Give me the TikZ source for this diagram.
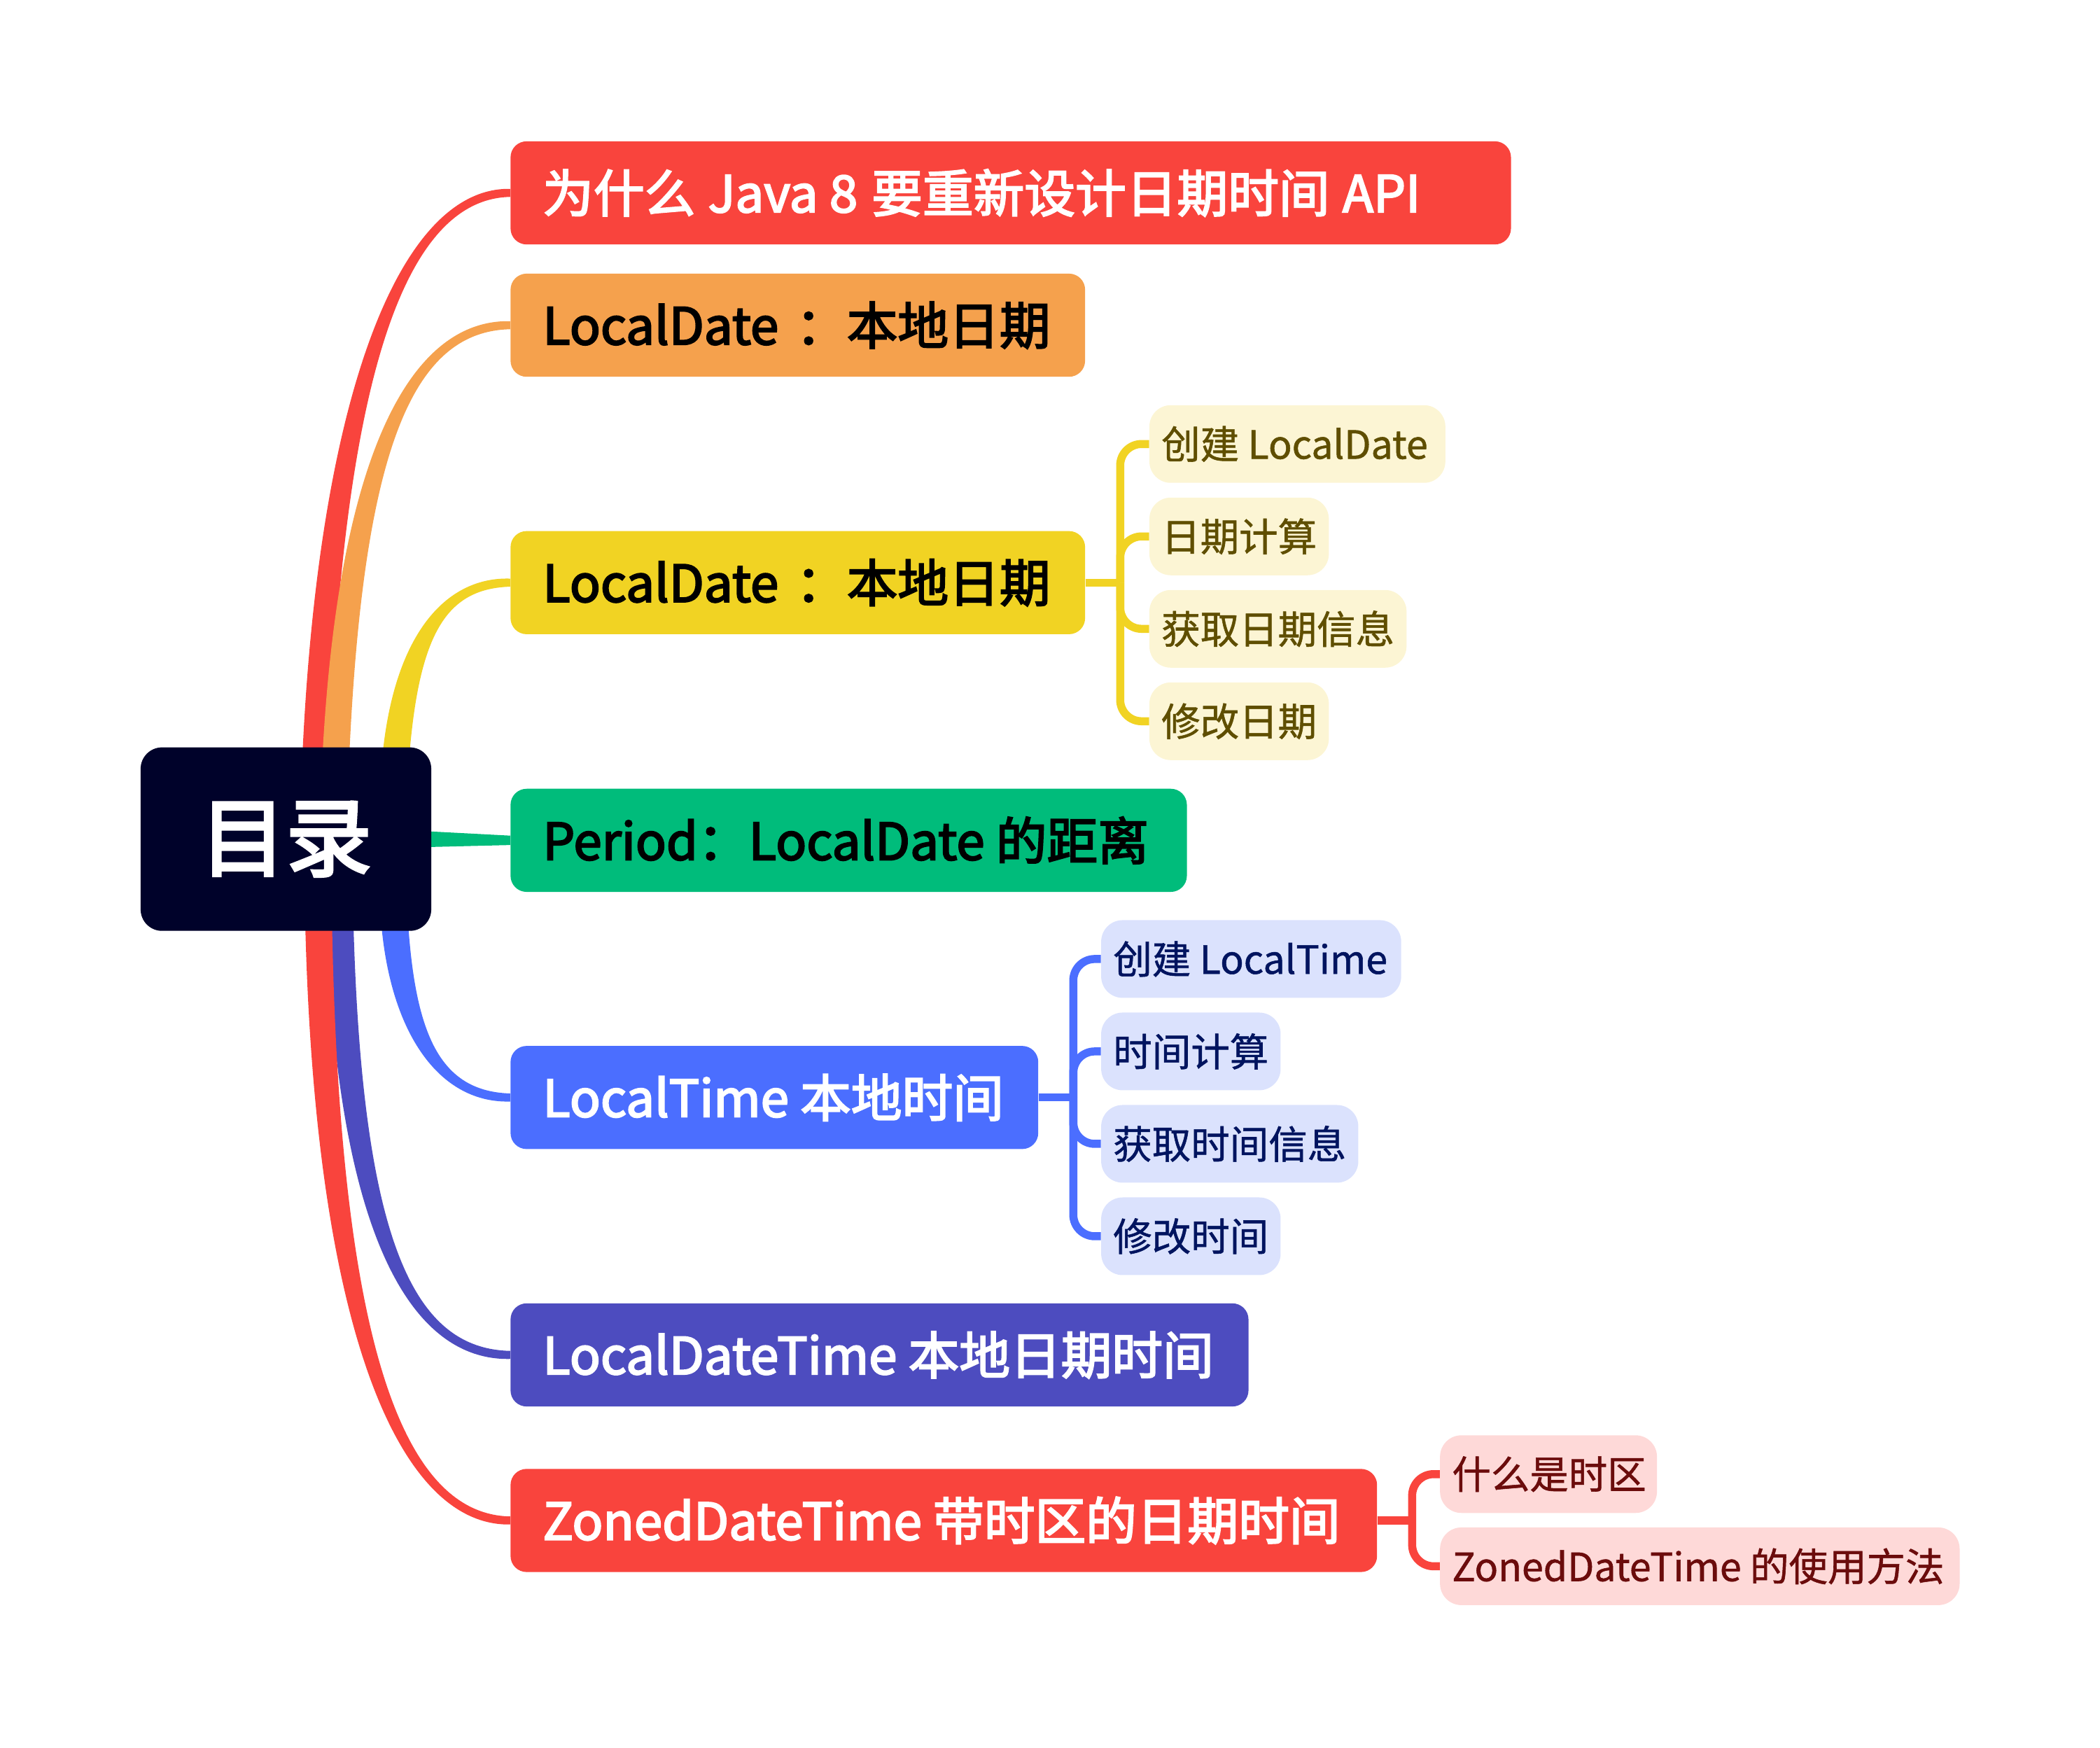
\documentclass[tikz,border=0pt]{standalone}
\usepackage{fontspec}
\setmainfont{Noto Sans CJK SC}
\newfontfamily\topicfont[FakeBold=3]{Noto Sans CJK SC}
\newfontfamily\rootfont[FakeBold=3.5]{Noto Sans CJK SC}
\newfontfamily\subfont[FakeBold=1]{Noto Sans CJK SC}
\usetikzlibrary{calc,backgrounds}
\definecolor{croot}{HTML}{00022A}
\definecolor{cred}{HTML}{F9443D}
\definecolor{corange}{HTML}{F5A14D}
\definecolor{cyellow}{HTML}{F1D323}
\definecolor{cgreen}{HTML}{00BC7B}
\definecolor{cblue}{HTML}{4B6EFF}
\definecolor{cindigo}{HTML}{4D4CBF}
\definecolor{ysubfill}{HTML}{FCF5D4}
\definecolor{ysubtext}{HTML}{5F4E00}
\definecolor{bsubfill}{HTML}{DBE2FD}
\definecolor{bsubtext}{HTML}{00145F}
\definecolor{rsubfill}{HTML}{FED9D8}
\definecolor{rsubtext}{HTML}{6B0C0C}
\newcommand\tbox[2]{\makebox[#1pt][l]{#2}}
% tapered branch: color, start, ctrl1, ctrl2, end, sign (+1 going up, -1 going down)
\newcommand\branch[6]{%
  \fill[#1] ($#2+(-10,0)$) .. controls ($#3+(-9,0)$) and ($#4+(0,-4.5*#6)$) .. ($#5+(0,-3*#6)$)
    -- ($#5+(0,3*#6)$) .. controls ($#4+(0,4.5*#6)$) and ($#3+(9,0)$) .. ($#2+(10,0)$) -- cycle;}
\begin{document}
\begin{tikzpicture}[x=1pt,y=-1pt,
  rootbox/.style={fill=croot, text=white, rounded corners=16pt, minimum width=217pt,
    minimum height=137pt, inner sep=0pt, font=\rootfont\fontsize{64}{70}\selectfont},
  topic/.style={rounded corners=12pt, minimum height=77pt, inner xsep=24pt, inner ysep=0pt,
    anchor=west, font=\topicfont\fontsize{38}{44}\selectfont},
  subbox/.style={rounded corners=16pt, minimum height=58pt, inner xsep=9pt, inner ysep=0pt,
    anchor=west, font=\subfont\fontsize{29}{34}\selectfont},
  ysub/.style={subbox, fill=ysubfill, text=ysubtext},
  bsub/.style={subbox, fill=bsubfill, text=bsubtext},
  rsub/.style={subbox, fill=rsubfill, text=rsubtext},
  ybr/.style={draw=cyellow, line width=6pt, rounded corners=16pt},
  bbr/.style={draw=cblue, line width=6pt, rounded corners=16pt},
  rbr/.style={draw=cred, line width=6pt, rounded corners=16pt}]
\useasboundingbox (0,0) rectangle (1568,1304.6);

% root
\node[rootbox] (root) at (213.5,626.5) {目录};

% main topics
\node[topic, fill=cred, text=white]  (t1) at (381,144)    {\tbox{699}{为什么\hspace{1pt} Java 8\hspace{2pt} 要重新设计日期时间\hspace{1pt} API}};
\node[topic, fill=corange, text=black] (t2) at (381,242.8) {\tbox{381}{LocalDate\hspace{13pt}：本地日期}};
\node[topic, fill=cyellow, text=black] (t3) at (381,435)   {\tbox{381}{LocalDate\hspace{13pt}：本地日期}};
\node[topic, fill=cgreen, text=black]  (t4) at (381,627.4) {\tbox{457}{Period：LocalDate 的距离}};
\node[topic, fill=cblue, text=white]   (t5) at (381,819.4) {\tbox{346}{LocalTime 本地时间}};
\node[topic, fill=cindigo, text=white] (t6) at (381,1011.6){\tbox{503}{LocalDateTime 本地日期时间}};
\node[topic, fill=cred, text=white]    (t7) at (381,1135.2){\tbox{599}{ZonedDateTime 带时区的日期时间}};

% yellow subtopics
\node[ysub] (y1) at (858,331.5) {\tbox{203}{创建 LocalDate}};
\node[ysub] (y2) at (858,400.5) {\tbox{116}{日期计算}};
\node[ysub] (y3) at (858,469.5) {\tbox{174}{获取日期信息}};
\node[ysub] (y4) at (858,538.5) {\tbox{116}{修改日期}};

% blue subtopics
\node[bsub] (b1) at (822,716) {\tbox{206}{创建 LocalTime}};
\node[bsub] (b2) at (822,785) {\tbox{116}{时间计算}};
\node[bsub] (b3) at (822,854) {\tbox{174}{获取时间信息}};
\node[bsub] (b4) at (822,923) {\tbox{116}{修改时间}};

% red subtopics
\node[rsub] (r1) at (1075,1100.6) {\tbox{144}{什么是时区}};
\node[rsub] (r2) at (1075,1169.4) {\tbox{370}{ZonedDateTime 的使用方法}};

\coordinate (yb) at ($(t3.east)+(26,0)$);
\coordinate (bb) at ($(t5.east)+(26,0)$);
\coordinate (rb) at ($(t7.east)+(26,0)$);

\begin{scope}[on background layer]
  % branches from root
  \branch{cred}{(236,560)}{(248,290)}{(300,144)}{(t1.west)}{1}
  \branch{corange}{(251,560)}{(263,330)}{(310,242.8)}{(t2.west)}{1}
  \branch{cyellow}{(296,560)}{(305,470)}{(335,435)}{(t3.west)}{1}
  \fill[cgreen] ($(root.east)+(-6,-6)$) -- ($(t4.west)+(0,-3.5)$) -- ($(t4.west)+(0,3.5)$) -- ($(root.east)+(-6,6)$) -- cycle;
  \branch{cblue}{(295,693)}{(302,775)}{(330,819.4)}{(t5.west)}{-1}
  \branch{cindigo}{(254,693)}{(262,930)}{(310,1011.6)}{(t6.west)}{-1}
  \branch{cred}{(238,693)}{(245,1000)}{(300,1135.2)}{(t7.west)}{-1}

  % yellow bracket
  \draw[ybr] (t3.east) -- (yb);
  \foreach \s in {y1,y2,y3,y4} \draw[ybr] (yb) |- (\s.west);
  % blue bracket
  \draw[bbr] (t5.east) -- (bb);
  \foreach \s in {b1,b2,b3,b4} \draw[bbr] (bb) |- (\s.west);
  % red bracket
  \draw[rbr] (t7.east) -- (rb);
  \foreach \s in {r1,r2} \draw[rbr] (rb) |- (\s.west);
\end{scope}
\end{tikzpicture}
\end{document}
